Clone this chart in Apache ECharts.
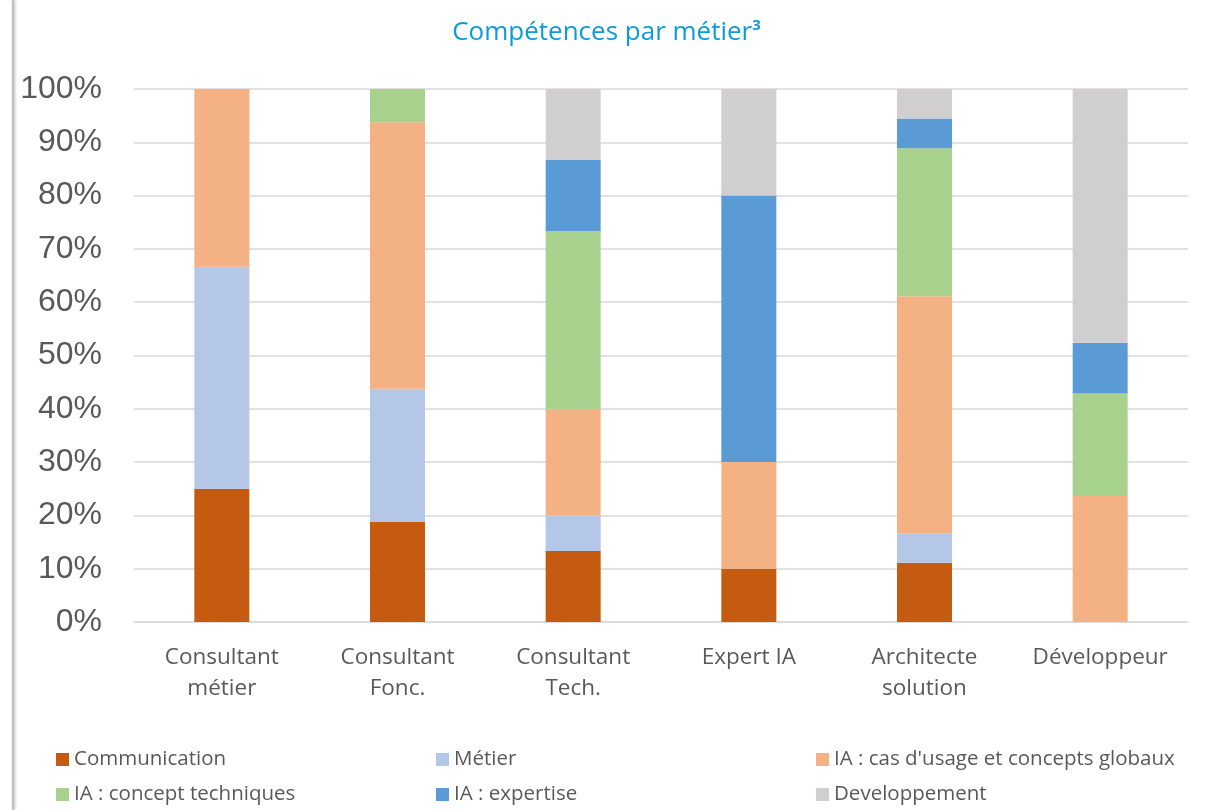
<!DOCTYPE html>
<html><head><meta charset="utf-8">
<script src="https://cdn.jsdelivr.net/npm/echarts@6/dist/echarts.min.js"></script>
<style>html,body{margin:0;padding:0;background:#fff}#c{width:1213px;height:810px}</style>
</head><body><div id="c"></div>
<script>
const categories = ['Consultant\nmétier','Consultant\nFonc.','Consultant\nTech.','Expert IA','Architecte\nsolution','Développeur'];
const communication = [25, 18.75, 13.33, 10, 11.11, 0];
const metier = [41.67, 25, 6.67, 0, 5.56, 0];
const iaCas = [33.33, 50, 20, 20, 44.44, 23.81];
const iaConcept = [0, 6.25, 33.33, 0, 27.78, 19.05];
const iaExpertise = [0, 0, 13.33, 50, 5.56, 9.52];
const developpement = [0, 0, 13.34, 20, 5.55, 47.62];
const yTicks = [0,10,20,30,40,50,60,70,80,90,100];

const names = ['Communication','Métier',"IA : cas d'usage et concepts globaux",'IA : concept techniques','IA : expertise','Developpement'];
const colors = ['#C55A11','#B4C7E7','#F4B183','#A9D18E','#5B9BD5','#D0CECE'];
const datas = [communication, metier, iaCas, iaConcept, iaExpertise, developpement];

const chart = echarts.init(document.getElementById('c'));
const legendText = {fontFamily:'Open Sans', fontSize:20.5, color:'#595959'};
function legend(x, items){
  return {data: items, left: x, top: 744, orient:'vertical', itemGap: 14, itemWidth: 13, itemHeight: 13,
    icon:'rect', itemStyle:{borderWidth:0}, textStyle: legendText, selectedMode:false};
}
chart.setOption({
  animation:false,
  title:{text:'Compétences par métier{s|3}', left:'center', top:13,
    textStyle:{fontFamily:'Open Sans', fontSize:26, fontWeight:'normal', color:'#0E9BD8',
      rich:{s:{fontSize:15, fontWeight:'bold', color:'#0E9BD8', verticalAlign:'top', padding:[0,0,14,0]}}}},
  legend:[legend(51,[names[0],names[3]]), legend(431,[names[1],names[4]]), legend(811,[names[2],names[5]])],
  grid:{left:134, right:25, top:89, bottom:188},
  xAxis:{type:'category', data:categories,
    axisLine:{lineStyle:{color:'#D9D9D9', width:1.5}}, axisTick:{show:false},
    axisLabel:{fontFamily:'Open Sans', fontSize:22.5, color:'#595959', lineHeight:31, margin:20, interval:0}},
  yAxis:{type:'value', min:0, max:100, interval:10,
    axisLine:{show:false}, axisTick:{show:false},
    splitLine:{lineStyle:{color:'#D9D9D9', width:1.5}},
    axisLabel:{fontFamily:'Liberation Sans', fontSize:32, color:'#595959', margin:32, padding:[7,0,0,0],
      formatter: v => yTicks.includes(v) ? v + '%' : ''}},
  graphic:[{type:'line', shape:{x1:13,y1:0,x2:13,y2:810}, style:{stroke:'#BFBFBF', lineWidth:2, shadowBlur:3, shadowColor:'rgba(0,0,0,0.3)', shadowOffsetX:1}}],
  series: names.map((n,i)=>({name:n, type:'bar', stack:'t', data:datas[i], barWidth:55,
    itemStyle:{color:colors[i]}}))
});
</script></body></html>
